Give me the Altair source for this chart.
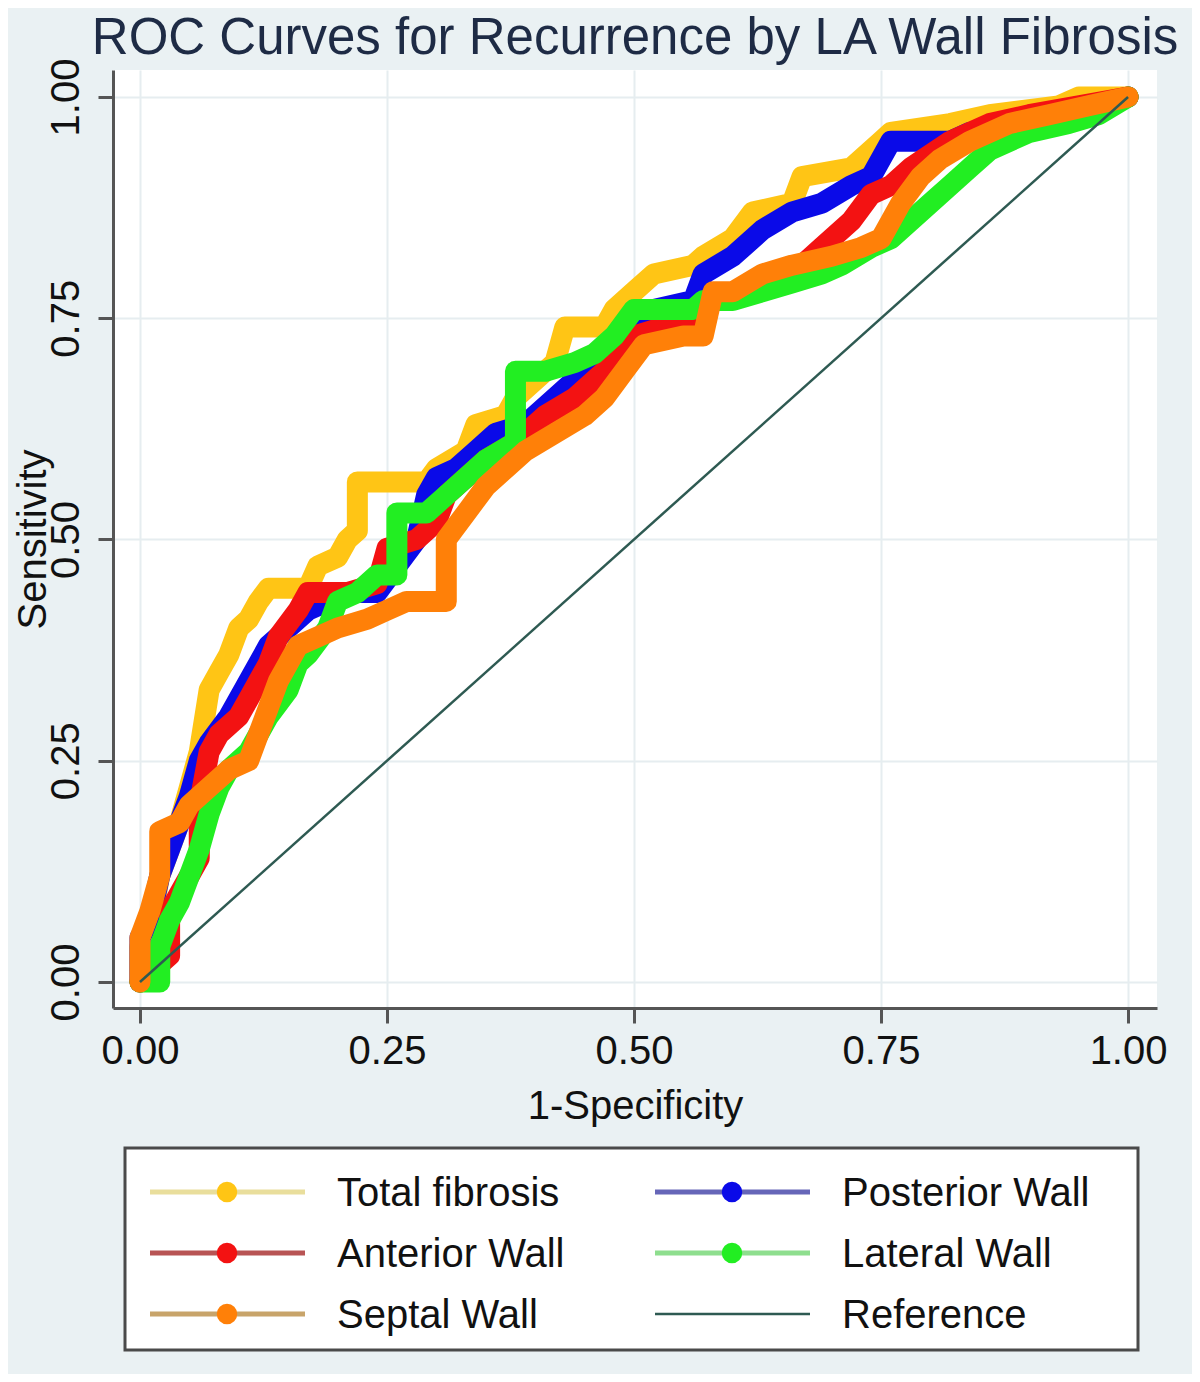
import altair as alt
import pandas as pd

# ---------------- data ----------------
series_names = ["Total fibrosis", "Posterior Wall", "Anterior Wall", "Lateral Wall", "Septal Wall"]

total_fpr = [0, 0, 0.01, 0.02, 0.03, 0.04, 0.05, 0.06, 0.07, 0.08, 0.09, 0.10, 0.11, 0.12, 0.13, 0.17, 0.18, 0.20, 0.21,
             0.22, 0.22, 0.29, 0.30, 0.33, 0.34, 0.37, 0.38, 0.42, 0.43, 0.47, 0.48, 0.50, 0.52, 0.56, 0.57, 0.60, 0.62,
             0.66, 0.67, 0.72, 0.75, 0.76, 0.82, 0.86, 0.93, 0.95, 1.0]
total_tpr = [0, 0.04, 0.06, 0.12, 0.15, 0.18, 0.22, 0.26, 0.33, 0.35, 0.37, 0.40, 0.41, 0.43, 0.445, 0.445, 0.47, 0.48, 0.50,
             0.51, 0.565, 0.565, 0.58, 0.60, 0.63, 0.64, 0.66, 0.70, 0.74, 0.74, 0.76, 0.78, 0.80, 0.81, 0.82, 0.84, 0.87,
             0.88, 0.91, 0.92, 0.95, 0.96, 0.97, 0.98, 0.99, 1.0, 1.0]

posterior_fpr = [0, 0, 0.01, 0.02, 0.03, 0.04, 0.05, 0.06, 0.07, 0.09, 0.11, 0.13, 0.15, 0.17, 0.19, 0.21, 0.24, 0.26, 0.28,
                 0.29, 0.30, 0.32, 0.34, 0.36, 0.39, 0.42, 0.44, 0.46, 0.48, 0.50, 0.52, 0.56, 0.57, 0.60, 0.63, 0.66,
                 0.69, 0.72, 0.74, 0.76, 0.82, 0.84, 0.88, 0.93, 0.97, 1.0]
posterior_tpr = [0, 0.05, 0.07, 0.12, 0.15, 0.18, 0.21, 0.25, 0.27, 0.30, 0.34, 0.38, 0.40, 0.42, 0.43, 0.44, 0.44, 0.47, 0.50,
                 0.55, 0.57, 0.58, 0.60, 0.62, 0.63, 0.66, 0.68, 0.70, 0.72, 0.75, 0.76, 0.77, 0.80, 0.82, 0.85, 0.87,
                 0.88, 0.90, 0.91, 0.95, 0.95, 0.96, 0.97, 0.98, 0.99, 1.0]

anterior_fpr = [0, 0.03, 0.03, 0.04, 0.05, 0.06, 0.06, 0.07, 0.08, 0.10, 0.11, 0.13, 0.14, 0.16, 0.17, 0.19, 0.21, 0.24, 0.25,
                0.28, 0.30, 0.31, 0.33, 0.35, 0.38, 0.41, 0.44, 0.46, 0.48, 0.50, 0.53, 0.56, 0.58, 0.62, 0.66, 0.69,
                0.72, 0.74, 0.76, 0.78, 0.82, 0.86, 0.90, 0.95, 1.0]
anterior_tpr = [0, 0.03, 0.08, 0.10, 0.12, 0.14, 0.20, 0.26, 0.28, 0.30, 0.32, 0.36, 0.39, 0.42, 0.44, 0.44, 0.44, 0.45, 0.49,
                0.50, 0.52, 0.55, 0.57, 0.59, 0.61, 0.64, 0.66, 0.68, 0.70, 0.73, 0.74, 0.75, 0.77, 0.78, 0.80, 0.83,
                0.86, 0.89, 0.90, 0.92, 0.95, 0.97, 0.98, 0.99, 1.0]

lateral_fpr = [0, 0.02, 0.02, 0.03, 0.04, 0.05, 0.06, 0.07, 0.08, 0.09, 0.11, 0.12, 0.13, 0.15, 0.16, 0.17, 0.19, 0.20, 0.22,
               0.24, 0.26, 0.26, 0.29, 0.31, 0.33, 0.35, 0.38, 0.38, 0.41, 0.44, 0.46, 0.48, 0.50, 0.56, 0.57, 0.60, 0.63,
               0.66, 0.69, 0.71, 0.74, 0.76, 0.78, 0.80, 0.82, 0.84, 0.86, 0.90, 0.94, 0.97, 1.0]
lateral_tpr = [0, 0.0, 0.04, 0.07, 0.09, 0.12, 0.15, 0.19, 0.22, 0.24, 0.26, 0.28, 0.30, 0.33, 0.36, 0.37, 0.40, 0.43, 0.44,
               0.46, 0.46, 0.53, 0.53, 0.55, 0.57, 0.59, 0.61, 0.69, 0.69, 0.70, 0.71, 0.73, 0.76, 0.76, 0.77, 0.77, 0.78,
               0.79, 0.80, 0.81, 0.83, 0.84, 0.86, 0.88, 0.90, 0.92, 0.94, 0.96, 0.97, 0.98, 1.0]

septal_fpr = [0, 0, 0.01, 0.02, 0.02, 0.04, 0.05, 0.07, 0.09, 0.11, 0.12, 0.13, 0.14, 0.15, 0.16, 0.18, 0.20, 0.23, 0.25,
              0.27, 0.31, 0.31, 0.33, 0.35, 0.37, 0.39, 0.42, 0.45, 0.47, 0.49, 0.51, 0.55, 0.57, 0.58, 0.60, 0.63, 0.66,
              0.70, 0.73, 0.75, 0.76, 0.77, 0.79, 0.81, 0.84, 0.88, 0.92, 0.96, 1.0]
septal_tpr = [0, 0.05, 0.08, 0.12, 0.17, 0.18, 0.20, 0.22, 0.24, 0.25, 0.28, 0.31, 0.34, 0.36, 0.38, 0.39, 0.40, 0.41, 0.42,
              0.43, 0.43, 0.50, 0.53, 0.56, 0.58, 0.60, 0.62, 0.64, 0.66, 0.69, 0.72, 0.73, 0.73, 0.78, 0.78, 0.80, 0.81,
              0.82, 0.83, 0.84, 0.86, 0.88, 0.91, 0.93, 0.95, 0.97, 0.98, 0.99, 1.0]

reference_x = [0, 1]
reference_y = [0, 1]

tick_values = [0, 0.25, 0.5, 0.75, 1.0]
legend_labels = series_names + ["Reference"]

# ---------------- styles ----------------
curve_colors = ["#FFC515", "#0A0AE8", "#F31212", "#22EE22", "#FF8008"]
legend_line_colors = ["#E9DE9C", "#6666B8", "#B85454", "#8EDE8E", "#C8A46A"]
reference_color = "#2E5A52"
FONT = "Liberation Sans"

fprs = [total_fpr, posterior_fpr, anterior_fpr, lateral_fpr, septal_fpr]
tprs = [total_tpr, posterior_tpr, anterior_tpr, lateral_tpr, septal_tpr]

x_scale = alt.Scale(domain=[-0.0273, 1.0293], nice=False, zero=False)
y_scale = alt.Scale(domain=[-0.0294, 1.0305], nice=False, zero=False)

x_axis = alt.Axis(values=tick_values, format=".2f", title="1-Specificity",
                  labelFontSize=40, titleFontSize=40, labelFont=FONT, titleFont=FONT,
                  labelColor="#111", titleColor="#111", titleFontWeight="normal",
                  tickSize=15, tickWidth=3, tickColor="#555", domainColor="#555", domainWidth=3,
                  grid=True, gridColor="#E6EDF0", gridWidth=2,
                  labelPadding=8, labelBaseline="top", titleY=110, titleBaseline="alphabetic",
                  labelFlush=False, labelOverlap=False)
y_axis = alt.Axis(values=tick_values, format=".2f", title="Sensitivity",
                  labelFontSize=40, titleFontSize=40, labelFont=FONT, titleFont=FONT,
                  labelColor="#111", titleColor="#111", titleFontWeight="normal",
                  tickSize=15, tickWidth=3, tickColor="#555", domainColor="#555", domainWidth=3,
                  grid=True, gridColor="#E6EDF0", gridWidth=2,
                  labelAngle=270, labelAlign="center", labelBaseline="alphabetic", labelPadding=20,
                  titleAngle=270, titleX=-68, titleY=469, titleAlign="center", titleBaseline="alphabetic",
                  labelFlush=False, labelOverlap=False)

curve_layers = []
for name, fx, fy, col in zip(series_names, fprs, tprs, curve_colors):
    d = pd.DataFrame({"fpr": fx, "tpr": fy, "idx": list(range(len(fx))), "series": name})
    curve_layers.append(
        alt.Chart(d).mark_line(color=col, strokeWidth=21, strokeCap="round", strokeJoin="round").encode(
            x=alt.X("fpr:Q", scale=x_scale, axis=x_axis),
            y=alt.Y("tpr:Q", scale=y_scale, axis=y_axis),
            order="idx:Q",
        )
    )

ref_df = pd.DataFrame({"fpr": reference_x, "tpr": reference_y})
ref_layer = alt.Chart(ref_df).mark_line(color=reference_color, strokeWidth=2.5).encode(
    x=alt.X("fpr:Q", scale=x_scale, axis=x_axis),
    y=alt.Y("tpr:Q", scale=y_scale, axis=y_axis),
)

main = alt.layer(*curve_layers, ref_layer)

# ---------------- legend (its own scales) ----------------
leg_df = pd.DataFrame({
    "label": legend_labels,
    "col": [i % 2 for i in range(len(legend_labels))],
    "row": [i // 2 for i in range(len(legend_labels))],
    "lcolor": legend_line_colors + [reference_color],
    "dcolor": curve_colors + [reference_color],
    "has_dot": [True] * len(series_names) + [False],
})
lx = alt.Scale(domain=[0, 1], range=[37, 542])
ly = alt.Scale(domain=[0, 2], range=[1122, 1244])

box = alt.Chart(pd.DataFrame({"a": [0]})).mark_rect(fill="white", stroke="#4A4A4A", strokeWidth=3).encode(
    x=alt.value(12), x2=alt.value(1025), y=alt.value(1078), y2=alt.value(1280))

leg_lines = alt.Chart(leg_df[leg_df.has_dot]).mark_rule(strokeWidth=5, x2Offset=155).encode(
    x=alt.X("col:Q", scale=lx, axis=None), x2="col:Q",
    y=alt.Y("row:Q", scale=ly, axis=None),
    color=alt.Color("lcolor:N", scale=None))
leg_ref = alt.Chart(leg_df[~leg_df.has_dot]).mark_rule(strokeWidth=2.5, x2Offset=155).encode(
    x=alt.X("col:Q", scale=lx, axis=None), x2="col:Q",
    y=alt.Y("row:Q", scale=ly, axis=None),
    color=alt.Color("lcolor:N", scale=None))
leg_dots = alt.Chart(leg_df[leg_df.has_dot]).mark_circle(size=420, opacity=1, xOffset=77).encode(
    x=alt.X("col:Q", scale=lx, axis=None),
    y=alt.Y("row:Q", scale=ly, axis=None),
    color=alt.Color("dcolor:N", scale=None))
leg_text = alt.Chart(leg_df).mark_text(align="left", baseline="middle", fontSize=40, font=FONT,
                                        color="#111", xOffset=187, dy=2).encode(
    x=alt.X("col:Q", scale=lx, axis=None),
    y=alt.Y("row:Q", scale=ly, axis=None),
    text="label:N")

legend = alt.layer(box, leg_lines, leg_ref, leg_dots, leg_text)

chart = alt.layer(main, legend).resolve_scale(x="independent", y="independent").properties(
    width=1044, height=938,
    title=alt.TitleParams("ROC Curves for Recurrence by LA Wall Fibrosis", fontSize=51, font=FONT,
                          fontWeight="normal", color="#1E2B45", anchor="middle", offset=14, dy=21),
    padding={"left": 105, "top": 62, "right": 35, "bottom": 366},
    autosize=alt.AutoSizeParams(type="none"),
).configure(background="#EAF1F3").configure_view(fill="white", stroke=None)

chart.save("out.html", embed_options={"renderer": "svg", "actions": False})
